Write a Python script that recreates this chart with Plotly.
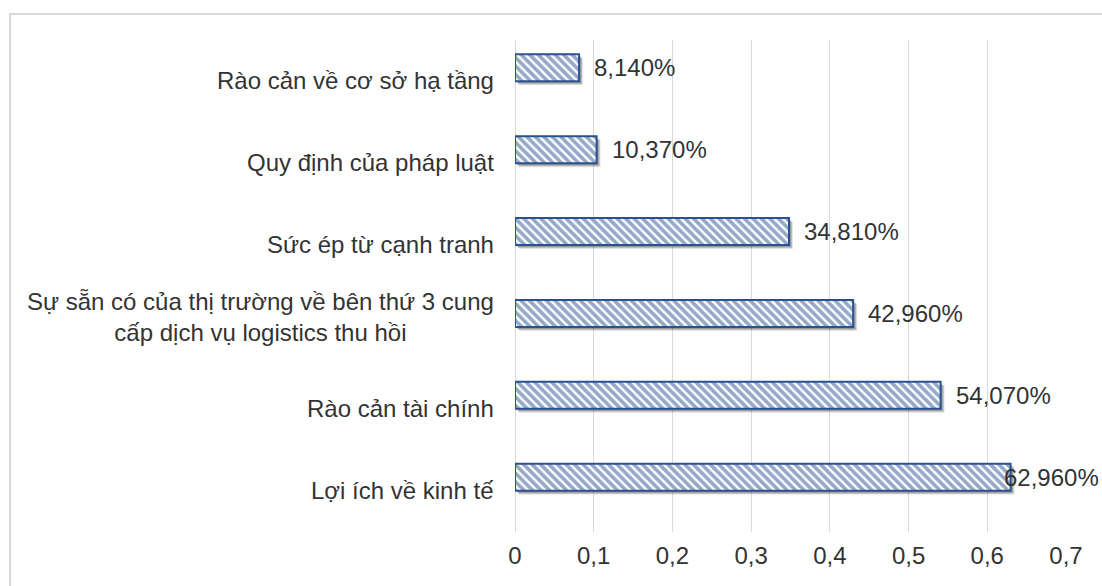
import plotly.graph_objects as go

categories = [
    "Lợi ích về kinh tế",
    "Rào cản tài chính",
    "Sự sẵn có của thị trường về bên thứ 3 cung<br>cấp dịch vụ logistics thu hồi",
    "Sức ép từ cạnh tranh",
    "Quy định của pháp luật",
    "Rào cản về cơ sở hạ tầng",
]
values = [0.6296, 0.5407, 0.4296, 0.3481, 0.1037, 0.0814]
value_labels = ["62,960%", "54,070%", "42,960%", "34,810%", "10,370%", "8,140%"]
tick_vals = [0, 0.1, 0.2, 0.3, 0.4, 0.5, 0.6, 0.7]
tick_text = ["0", "0,1", "0,2", "0,3", "0,4", "0,5", "0,6", "0,7"]

W, H = 1102, 586
L, R, T, B = 515, 36, 40, 54
plot_w = W - L - R
plot_h = H - T - B
x_max = 0.7
bar_w = 0.33
FONT = "Liberation Sans, Arial, sans-serif"
FS = 24
BLUE = "#2B5290"

fig = go.Figure()

# soft shadow layers
for dx, dy, col in [(4, 4, "rgba(0,0,0,0.10)"), (3, 3, "rgba(0,0,0,0.18)"), (2, 2, "rgba(0,0,0,0.18)")]:
    fig.add_trace(go.Bar(
        y=categories, x=values, orientation="h",
        base=dx / plot_w * x_max,
        width=bar_w, offset=-bar_w / 2 - dy / plot_h * 6.01,
        marker=dict(color=col, line=dict(width=0)),
        hoverinfo="skip", showlegend=False,
    ))

fig.add_trace(go.Bar(
    y=categories, x=values, orientation="h",
    width=bar_w, offset=-bar_w / 2,
    marker=dict(
        color="white",
        line=dict(color=BLUE, width=2),
        pattern=dict(shape="\\", fgcolor=BLUE, bgcolor="white", size=6, solidity=0.6, fillmode="overlay"),
    ),
    showlegend=False,
))

annotations = []
for c in categories:
    two_line = "<br>" in c
    annotations.append(dict(
        xref="paper", yref="y", x=0, y=c, xanchor="right", yanchor="middle",
        xshift=-19, yshift=-4 if two_line else -13, text=c, showarrow=False, align="center",
        font=dict(family=FONT, size=FS, color="#333333"),
    ))

for v, lab, c in zip(values, value_labels, categories):
    px_end = L + v / x_max * plot_w
    est_w = len(lab) * 0.6 * FS
    if px_end + 15 + est_w > W - 2:
        annotations.append(dict(
            xref="paper", yref="y", x=(W - 1 - L) / plot_w, y=c, xanchor="right", yanchor="middle",
            text=lab, showarrow=False, font=dict(family=FONT, size=FS, color="#333333"),
        ))
    else:
        annotations.append(dict(
            xref="x", yref="y", x=v, y=c, xanchor="left", yanchor="middle", xshift=13,
            text=lab, showarrow=False, font=dict(family=FONT, size=FS, color="#333333"),
        ))

fig.update_layout(
    width=W, height=H,
    margin=dict(l=L, r=R, t=T, b=B),
    barmode="overlay",
    plot_bgcolor="white", paper_bgcolor="white",
    annotations=annotations,
    shapes=[dict(
        type="rect", xref="paper", yref="paper",
        x0=(10 - L) / plot_w, x1=(W + 20 - L) / plot_w,
        y0=(H - B - (H + 20)) / plot_h, y1=(H - B - 14) / plot_h,
        line=dict(color="#D9D9D9", width=2), fillcolor="rgba(0,0,0,0)", layer="below",
    )],
    xaxis=dict(
        range=[0, x_max], tickvals=tick_vals, ticktext=tick_text,
        showgrid=True, gridcolor="#D9D9D9", gridwidth=1,
        zeroline=True, zerolinecolor="#D9D9D9", zerolinewidth=1,
        showline=False, ticks="", ticklabelstandoff=7,
        tickfont=dict(family=FONT, size=FS, color="#333333"),
    ),
    yaxis=dict(
        type="category", categoryorder="array", categoryarray=categories,
        range=[-0.67, 5.34], showticklabels=False, showgrid=False,
        zeroline=False, showline=False, ticks="",
    ),
)

fig.write_html("out.html")
